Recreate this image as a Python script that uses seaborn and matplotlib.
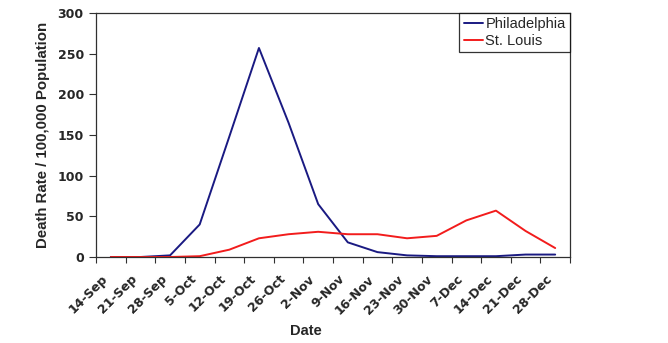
import matplotlib
matplotlib.use("Agg")
import matplotlib.pyplot as plt
import matplotlib.transforms as mtransforms
import seaborn as sns
import pandas as pd

# Weekly death rate per 100,000 population, 1918
weeks = ["14-Sep", "21-Sep", "28-Sep", "5-Oct", "12-Oct", "19-Oct", "26-Oct",
         "2-Nov", "9-Nov", "16-Nov", "23-Nov", "30-Nov", "7-Dec", "14-Dec",
         "21-Dec", "28-Dec"]
philadelphia = [0, 0, 2, 40, 148, 257, 165, 65, 18, 6, 2, 1, 1, 1, 3, 3]
st_louis = [0, 0, 0, 1, 9, 23, 28, 31, 28, 28, 23, 26, 45, 57, 32, 11]
cities = ["Philadelphia", "St. Louis"]
y_ticks = [0, 50, 100, 150, 200, 250, 300]

rows = []
for city, series in zip(cities, [philadelphia, st_louis]):
    for i, v in enumerate(series):
        rows.append({"week": i, "rate": v, "city": city})
df = pd.DataFrame(rows)

sns.set_style("white")
plt.rcParams["font.family"] = ["Liberation Sans", "DejaVu Sans"]

fig = plt.figure(figsize=(6.68, 3.43), dpi=100)
ax = fig.add_axes([96 / 668, 1 - 257 / 343, 474 / 668, 244 / 343])

palette = {"Philadelphia": "#1a1a82", "St. Louis": "#f21c1c"}
sns.lineplot(data=df, x="week", y="rate", hue="city", hue_order=cities,
             palette=palette, linewidth=1.4, ax=ax, legend=False)

n = len(weeks)
ax.set_xlim(-0.5, n - 0.5)
ax.set_ylim(0, 300)

# Category ticks between weeks, labels centred on each week
ax.set_xticks([i - 0.5 for i in range(n + 1)], minor=True)
ax.set_xticks(range(n))
ax.set_xticklabels(weeks, rotation=45, ha="right", va="center",
                   rotation_mode="anchor", fontfamily="DejaVu Sans",
                   fontweight="bold", fontsize=9)
ax.tick_params(axis="x", which="major", length=0, pad=14.5)
ax.tick_params(axis="x", which="minor", length=4, width=0.8,
               direction="out", bottom=True, color="#303030")
shift = mtransforms.ScaledTranslation(-5.5 / 100, 0, fig.dpi_scale_trans)
for lbl in ax.get_xticklabels():
    lbl.set_transform(lbl.get_transform() + shift)

ax.set_yticks(y_ticks)
ax.set_yticklabels([str(t) for t in y_ticks], fontfamily="DejaVu Sans",
                   fontweight="bold", fontsize=9)
ax.tick_params(axis="y", length=4.8, width=0.8, pad=4, direction="out",
               left=True, color="#303030")

for side in ["left", "bottom", "top", "right"]:
    ax.spines[side].set_visible(True)
    ax.spines[side].set_color("#303030")
    ax.spines[side].set_linewidth(0.9)

ax.set_xlabel("Date", fontsize=10.5, fontweight="bold")
ax.set_ylabel("Death Rate / 100,000 Population", fontsize=10.8,
              fontweight="bold")
ax.xaxis.set_label_coords(209.5 / 474, -67 / 244)
ax.yaxis.set_label_coords(-46 / 474, 0.5)

handles = ax.get_lines()[:2]
leg = ax.legend(handles, cities, loc="upper right", bbox_to_anchor=(1, 1),
                borderaxespad=0, fontsize=10.5, frameon=True, fancybox=False,
                edgecolor="black", handlelength=1.35, handletextpad=0.15,
                labelspacing=0.18, borderpad=0.3)
leg.get_frame().set_linewidth(0.9)

fig.savefig("out.png", dpi=100)
